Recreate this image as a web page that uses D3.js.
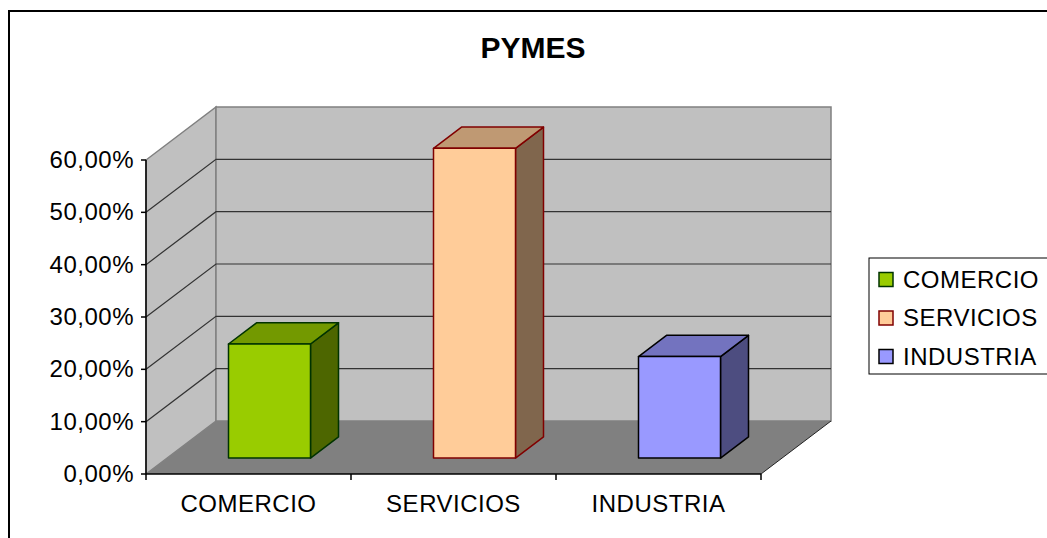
<!DOCTYPE html>
<html lang="es">
<head>
    <meta charset="UTF-8">
    <script src="https://d3js.org/d3.v7.min.js"></script>
    <title>PYMES</title>
    <style>
        body { margin: 0; background: #fff; overflow: hidden; }
        text { font-family: Arial, "Liberation Sans", sans-serif; fill: #000; }
        .lbl { font-size: 24px; letter-spacing: 0.5px; }
    </style>
</head>
<body>
<script>
    // Données du graphique
    var categories = ["COMERCIO", "SERVICIOS", "INDUSTRIA"];
    var valeurs = [21.8, 59.2, 19.4];
    var couleurs = ["#99cc00", "#ffcc99", "#9999ff"];
    var contours = ["#003300", "#800000", "#000000"];
    var ticksY = [0, 10, 20, 30, 40, 50, 60];

    var width = 1047, height = 538;

    var svg = d3.select("body").append("svg")
        .attr("width", width)
        .attr("height", height);

    // cadre extérieur
    svg.append("rect")
        .attr("x", 9).attr("y", 11)
        .attr("width", 1100).attr("height", 600)
        .attr("fill", "none").attr("stroke", "#000").attr("stroke-width", 2);

    // titre
    svg.append("text")
        .attr("x", 533).attr("y", 58)
        .attr("text-anchor", "middle")
        .style("font-size", "30px").style("font-weight", "bold")
        .text("PYMES");

    // échelles
    var x0 = 146, x1 = 761;
    var profX = 70, profY = -53; // profondeur du plancher

    var xBande = d3.scaleBand().domain(categories).range([x0, x1]).paddingInner(0).paddingOuter(0);
    var xBarre = d3.scaleBand().domain(categories).range([x0, x1]).paddingInner(0.6).paddingOuter(0.3);
    var y = d3.scaleLinear().domain([0, 60]).range([474, 160]);

    // point en 3D : z entre 0 (devant) et 1 (fond)
    function pt(px, py, z) {
        return [px + z * profX, py + z * profY];
    }
    var ligne = d3.line();

    var g = svg.append("g");

    // mur latéral
    g.append("path")
        .attr("d", ligne([pt(x0, y(0), 0), pt(x0, y(0), 1), pt(x0, y(60), 1), pt(x0, y(60), 0)]) + "Z")
        .attr("fill", "#c0c0c0").attr("stroke", "#808080").attr("stroke-width", 1.5);

    // mur du fond
    g.append("path")
        .attr("d", ligne([pt(x0, y(0), 1), pt(x1, y(0), 1), pt(x1, y(60), 1), pt(x0, y(60), 1)]) + "Z")
        .attr("fill", "#c0c0c0").attr("stroke", "#808080").attr("stroke-width", 1.5);

    // grille
    ticksY.filter(function (t) { return t > 0 && t < 60; }).forEach(function (t) {
        g.append("path")
            .attr("d", ligne([pt(x0, y(t), 0), pt(x0, y(t), 1), pt(x1, y(t), 1)]))
            .attr("fill", "none").attr("stroke", "#333").attr("stroke-width", 1.2);
    });

    // plancher
    g.append("path")
        .attr("d", ligne([pt(x0, y(0), 0), pt(x1, y(0), 0), pt(x1, y(0), 1), pt(x0, y(0), 1)]) + "Z")
        .attr("fill", "#808080").attr("stroke", "none");
    g.append("path")
        .attr("d", ligne([pt(x1, y(0), 0), pt(x1, y(0), 1)]))
        .attr("stroke", "#222").attr("stroke-width", 1);

    // barres
    var zA = 0.3, zB = 0.7;
    categories.forEach(function (c, i) {
        var xa = xBarre(c), xb = xa + xBarre.bandwidth();
        var yb = y(0), yh = y(valeurs[i]);
        var col = d3.color(couleurs[i]);
        var dessus = d3.rgb(col.r * 0.75, col.g * 0.75, col.b * 0.75);
        var cote = d3.rgb(col.r * 0.5, col.g * 0.5, col.b * 0.5);
        var bar = g.append("g")
            .attr("stroke", contours[i]).attr("stroke-width", 1.5).attr("stroke-linejoin", "round");
        bar.append("path")
            .attr("d", ligne([pt(xb, yb, zA), pt(xb, yb, zB), pt(xb, yh, zB), pt(xb, yh, zA)]) + "Z")
            .attr("fill", cote);
        bar.append("path")
            .attr("d", ligne([pt(xa, yh, zA), pt(xb, yh, zA), pt(xb, yh, zB), pt(xa, yh, zB)]) + "Z")
            .attr("fill", dessus);
        bar.append("path")
            .attr("d", ligne([pt(xa, yb, zA), pt(xb, yb, zA), pt(xb, yh, zA), pt(xa, yh, zA)]) + "Z")
            .attr("fill", col);
    });

    // axe Y
    var locale = d3.formatLocale({ decimal: ",", thousands: ".", grouping: [3], currency: ["", "€"] });
    var fmt = locale.format(".2f");

    g.append("line")
        .attr("x1", x0).attr("x2", x0).attr("y1", y(0)).attr("y2", y(60))
        .attr("stroke", "#000").attr("stroke-width", 1.5);
    ticksY.forEach(function (t) {
        g.append("line")
            .attr("x1", x0 - 5).attr("x2", x0).attr("y1", y(t)).attr("y2", y(t))
            .attr("stroke", "#000").attr("stroke-width", 1.5);
        g.append("text")
            .attr("class", "lbl")
            .attr("x", 134).attr("y", y(t) + 8)
            .attr("text-anchor", "end")
            .text(fmt(t) + "%");
    });

    // axe X
    g.append("line")
        .attr("x1", x0).attr("x2", x1).attr("y1", y(0)).attr("y2", y(0))
        .attr("stroke", "#000").attr("stroke-width", 1.5);
    categories.concat([null]).forEach(function (c) {
        var xt = c ? xBande(c) : x1;
        g.append("line")
            .attr("x1", xt).attr("x2", xt).attr("y1", y(0)).attr("y2", y(0) + 6)
            .attr("stroke", "#000").attr("stroke-width", 1.5);
    });
    categories.forEach(function (c) {
        g.append("text")
            .attr("class", "lbl")
            .attr("x", xBande(c) + xBande.bandwidth() / 2)
            .attr("y", 512)
            .attr("text-anchor", "middle")
            .text(c);
    });

    // légende
    var leg = svg.append("g");
    leg.append("rect")
        .attr("x", 869).attr("y", 258).attr("width", 200).attr("height", 116)
        .attr("fill", "#fff").attr("stroke", "#000").attr("stroke-width", 1);
    categories.forEach(function (c, i) {
        var cy = 279.5 + i * 38.5;
        leg.append("rect")
            .attr("x", 879).attr("y", cy - 7).attr("width", 14).attr("height", 14)
            .attr("fill", couleurs[i]).attr("stroke", contours[i]).attr("stroke-width", 1.5);
        leg.append("text")
            .attr("class", "lbl")
            .attr("x", 903).attr("y", cy + 8)
            .text(c);
    });
</script>
</body>
</html>
